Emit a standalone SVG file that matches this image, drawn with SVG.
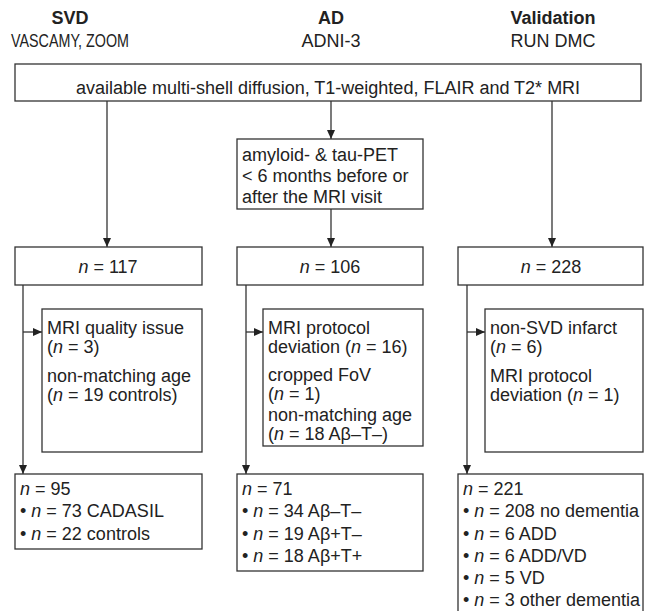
<svg xmlns="http://www.w3.org/2000/svg" width="650" height="611" viewBox="0 0 650 611">
<defs>
<marker id="ah" viewBox="0 0 9 8" refX="9" refY="4" markerWidth="9" markerHeight="8" markerUnits="userSpaceOnUse" orient="auto">
<path d="M0,0 L9,4 L0,8 Z" fill="#222"/>
</marker>
<style>
.box{fill:#fff;stroke:#333;stroke-width:1.3}
.t{font-family:"Liberation Sans",Arial,sans-serif;font-size:18px;fill:#222}
.b{font-weight:bold}
.c{text-anchor:middle}
.i{font-style:italic}
.ln{fill:none;stroke:#333;stroke-width:1.3}
</style>
</defs>
<rect width="650" height="611" fill="#fff"/>
<g id="titles">
<text class="t b c" x="70" y="24">SVD</text>
<text class="t c" x="70" y="47" textLength="118" lengthAdjust="spacingAndGlyphs">VASCAMY, ZOOM</text>
<text class="t b c" x="331" y="24">AD</text>
<text class="t c" x="331" y="47">ADNI-3</text>
<text class="t b c" x="553" y="24">Validation</text>
<text class="t c" x="553" y="47">RUN DMC</text>
</g>
<g id="connectors">
<path class="ln" d="M107,101 V247" marker-end="url(#ah)"/>
<path class="ln" d="M331,101 V139" marker-end="url(#ah)"/>
<path class="ln" d="M331,209 V247" marker-end="url(#ah)"/>
<path class="ln" d="M552,101 V247" marker-end="url(#ah)"/>
<path class="ln" d="M23,285 V474" marker-end="url(#ah)"/>
<path class="ln" d="M23,332 H42" marker-end="url(#ah)"/>
<path class="ln" d="M246,285 V474" marker-end="url(#ah)"/>
<path class="ln" d="M246,332 H263" marker-end="url(#ah)"/>
<path class="ln" d="M467,285 V474" marker-end="url(#ah)"/>
<path class="ln" d="M467,332 H485" marker-end="url(#ah)"/>
</g>
<g id="top">
<rect class="box" x="15" y="64" width="626" height="37"/>
<text class="t c" x="328" y="94">available multi-shell diffusion, T1-weighted, FLAIR and T2* MRI</text>
</g>
<g id="pet">
<rect class="box" x="237" y="139" width="186" height="70"/>
<text class="t" x="242" y="161">amyloid- &amp; tau-PET</text>
<text class="t" x="242" y="182">&lt; 6 months before or</text>
<text class="t" x="242" y="203">after the MRI visit</text>
</g>
<g id="n117">
<rect class="box" x="15" y="247" width="187" height="38"/>
<text class="t c" x="108" y="273"><tspan class="i">n</tspan> = 117</text>
</g>
<g id="n106">
<rect class="box" x="237" y="247" width="186" height="38"/>
<text class="t c" x="330" y="273"><tspan class="i">n</tspan> = 106</text>
</g>
<g id="n228">
<rect class="box" x="458" y="247" width="185" height="38"/>
<text class="t c" x="551" y="273"><tspan class="i">n</tspan> = 228</text>
</g>
<g id="excl-svd">
<rect class="box" x="42" y="309" width="160" height="143"/>
<text class="t" x="47" y="334">MRI quality issue</text>
<text class="t" x="47" y="353">(<tspan class="i">n</tspan> = 3)</text>
<text class="t" x="47" y="382">non-matching age</text>
<text class="t" x="47" y="401">(<tspan class="i">n</tspan> = 19 controls)</text>
</g>
<g id="excl-ad">
<rect class="box" x="263" y="309" width="160" height="137"/>
<text class="t" x="268" y="334">MRI protocol</text>
<text class="t" x="268" y="353">deviation (<tspan class="i">n</tspan> = 16)</text>
<text class="t" x="268" y="381">cropped FoV</text>
<text class="t" x="268" y="400">(<tspan class="i">n</tspan> = 1)</text>
<text class="t" x="268" y="421">non-matching age</text>
<text class="t" x="268" y="440">(<tspan class="i">n</tspan> = 18 Aβ–T–)</text>
</g>
<g id="excl-val">
<rect class="box" x="485" y="309" width="158" height="143"/>
<text class="t" x="490" y="334">non-SVD infarct</text>
<text class="t" x="490" y="353">(<tspan class="i">n</tspan> = 6)</text>
<text class="t" x="490" y="382">MRI protocol</text>
<text class="t" x="490" y="401">deviation (<tspan class="i">n</tspan> = 1)</text>
</g>
<g id="final-svd">
<rect class="box" x="15" y="474" width="187" height="75"/>
<text class="t" x="20" y="495"><tspan class="i">n</tspan> = 95</text>
<text class="t" x="20" y="517">• <tspan class="i">n</tspan> = 73 CADASIL</text>
<text class="t" x="20" y="540">• <tspan class="i">n</tspan> = 22 controls</text>
</g>
<g id="final-ad">
<rect class="box" x="237" y="474" width="186" height="97"/>
<text class="t" x="242" y="495"><tspan class="i">n</tspan> = 71</text>
<text class="t" x="242" y="517">• <tspan class="i">n</tspan> = 34 Aβ–T–</text>
<text class="t" x="242" y="540">• <tspan class="i">n</tspan> = 19 Aβ+T–</text>
<text class="t" x="242" y="562">• <tspan class="i">n</tspan> = 18 Aβ+T+</text>
</g>
<g id="final-val">
<rect class="box" x="458" y="474" width="185" height="145"/>
<text class="t" x="463" y="495"><tspan class="i">n</tspan> = 221</text>
<text class="t" x="463" y="517">• <tspan class="i">n</tspan> = 208 no dementia</text>
<text class="t" x="463" y="540">• <tspan class="i">n</tspan> = 6 ADD</text>
<text class="t" x="463" y="562">• <tspan class="i">n</tspan> = 6 ADD/VD</text>
<text class="t" x="463" y="584">• <tspan class="i">n</tspan> = 5 VD</text>
<text class="t" x="463" y="606">• <tspan class="i">n</tspan> = 3 other dementia</text>
</g>
</svg>
